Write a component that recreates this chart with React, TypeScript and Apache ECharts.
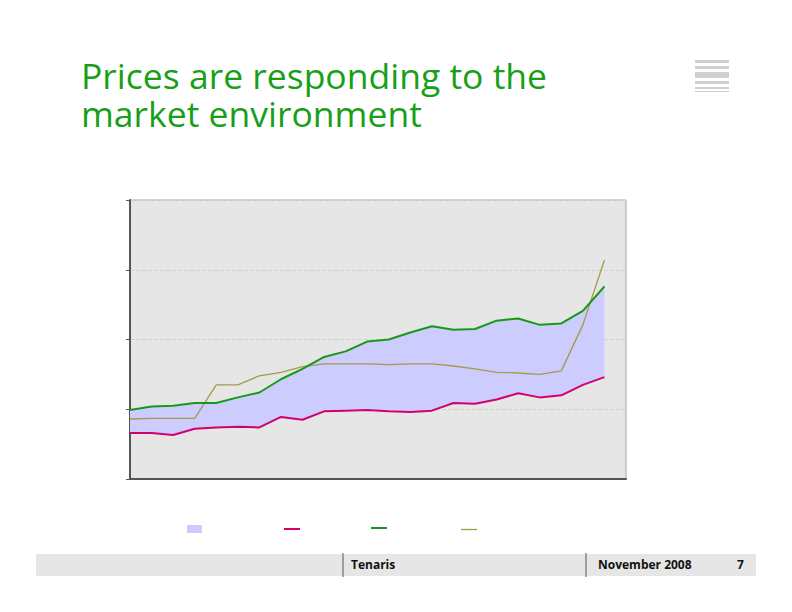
import React, { useEffect, useRef } from "react";
import * as echarts from "echarts";

const categories = Array.from({ length: 24 }, (_, i) => String(i + 1));
const upperPrice = [0.99, 1.04, 1.05, 1.09, 1.09, 1.17, 1.24, 1.43, 1.58, 1.75, 1.83, 1.97, 2.0, 2.1, 2.19, 2.14, 2.15, 2.27, 2.3, 2.21, 2.23, 2.41, 2.76];
const lowerPrice = [0.66, 0.66, 0.63, 0.72, 0.74, 0.75, 0.74, 0.89, 0.85, 0.97, 0.98, 0.99, 0.97, 0.96, 0.98, 1.09, 1.08, 1.14, 1.23, 1.17, 1.2, 1.35, 1.46];
const otherPrice = [0.86, 0.87, 0.87, 0.87, 1.35, 1.35, 1.48, 1.53, 1.61, 1.65, 1.65, 1.65, 1.64, 1.65, 1.65, 1.62, 1.58, 1.53, 1.52, 1.5, 1.55, 2.21, 3.14];
const bandWidth = upperPrice.map((v, i) => +(v - lowerPrice[i]).toFixed(3));
const titleLines = ["Prices are responding to the", "market environment"];

const GREEN = "#169a16";
const PINK = "#d4006c";
const OLIVE = "#a39c45";
const BAND = "#ccccff";

export default function App() {
  const ref = useRef<HTMLDivElement>(null);
  useEffect(() => {
    if (!ref.current) return;
    const chart = echarts.init(ref.current, undefined, { renderer: "svg" });
    chart.setOption({
      animation: false,
      backgroundColor: "#ffffff",
      grid: {
        left: 130,
        right: 166,
        top: 200,
        bottom: 133,
        show: true,
        backgroundColor: "#e6e6e6",
        borderColor: "#a8a8a8",
        borderWidth: 1,
      },
      xAxis: {
        type: "category",
        data: categories,
        boundaryGap: false,
        axisLine: { show: true, lineStyle: { color: "#555555", width: 2 } },
        axisTick: { show: false },
        axisLabel: { show: false },
        splitLine: { show: false },
      },
      yAxis: {
        type: "value",
        min: 0,
        max: 4,
        interval: 1,
        axisLine: { show: true, lineStyle: { color: "#555555", width: 2 } },
        axisTick: { show: true, length: 4, lineStyle: { color: "#555555", width: 1 } },
        axisLabel: { show: false },
        splitLine: { show: true, lineStyle: { color: "#d2d2d2", type: "dashed", width: 1 } },
      },
      series: [
        {
          type: "line",
          stack: "band",
          data: lowerPrice,
          symbol: "none",
          lineStyle: { opacity: 0 },
          areaStyle: { opacity: 0 },
          z: 1,
        },
        {
          type: "line",
          stack: "band",
          data: bandWidth,
          symbol: "none",
          lineStyle: { opacity: 0 },
          areaStyle: { color: BAND, opacity: 1 },
          z: 1,
        },
        {
          type: "line",
          data: otherPrice,
          symbol: "none",
          lineStyle: { color: OLIVE, width: 1.3 },
          z: 3,
        },
        {
          type: "line",
          data: lowerPrice,
          symbol: "none",
          lineStyle: { color: PINK, width: 2 },
          z: 4,
        },
        {
          type: "line",
          data: upperPrice,
          symbol: "none",
          lineStyle: { color: GREEN, width: 2 },
          z: 4,
        },
      ],
      graphic: [
        {
          type: "text",
          left: 81,
          top: 57,
          style: { text: titleLines[0], fill: "#17a017", font: "35.5px 'Open Sans'", lineHeight: 36 },
        },
        {
          type: "text",
          left: 81,
          top: 95,
          style: { text: titleLines[1], fill: "#17a017", font: "35.5px 'Open Sans'", lineHeight: 36 },
        },
        // icon stripes
        { type: "rect", shape: { x: 695, y: 60, width: 34, height: 3 }, style: { fill: "#d0d0d0" } },
        { type: "rect", shape: { x: 695, y: 66, width: 34, height: 3 }, style: { fill: "#d0d0d0" } },
        { type: "rect", shape: { x: 695, y: 72, width: 34, height: 6 }, style: { fill: "#d0d0d0" } },
        { type: "rect", shape: { x: 695, y: 81, width: 34, height: 3 }, style: { fill: "#d0d0d0" } },
        { type: "rect", shape: { x: 695, y: 87, width: 34, height: 2 }, style: { fill: "#d0d0d0" } },
        { type: "rect", shape: { x: 695, y: 91, width: 34, height: 1 }, style: { fill: "#d0d0d0" } },
        // legend keys
        { type: "rect", shape: { x: 187, y: 525, width: 15, height: 8 }, style: { fill: BAND } },
        { type: "line", shape: { x1: 284, y1: 529, x2: 300, y2: 529 }, style: { stroke: PINK, lineWidth: 2 } },
        { type: "line", shape: { x1: 371, y1: 528, x2: 387, y2: 528 }, style: { stroke: GREEN, lineWidth: 2 } },
        { type: "line", shape: { x1: 461, y1: 529.5, x2: 477, y2: 529.5 }, style: { stroke: OLIVE, lineWidth: 1.3 } },
        // footer
        { type: "rect", shape: { x: 36, y: 554, width: 720, height: 22 }, style: { fill: "#e6e6e6" } },
        { type: "line", shape: { x1: 343, y1: 553, x2: 343, y2: 577 }, style: { stroke: "#555555", lineWidth: 1 } },
        { type: "line", shape: { x1: 586, y1: 553, x2: 586, y2: 577 }, style: { stroke: "#555555", lineWidth: 1 } },
        {
          type: "text",
          left: 351,
          top: 558,
          style: { text: "Tenaris", fill: "#111111", font: "bold 12px 'Open Sans'" },
        },
        {
          type: "text",
          left: 598,
          top: 558,
          style: { text: "November 2008", fill: "#111111", font: "bold 12px 'Open Sans'" },
        },
        {
          type: "text",
          left: 737,
          top: 558,
          style: { text: "7", fill: "#111111", font: "bold 12px 'Open Sans'" },
        },
      ],
    });
    return () => chart.dispose();
  }, []);
  return (
    <div
      ref={ref}
      style={{ position: "fixed", left: 0, top: 0, width: 792, height: 612 }}
    />
  );
}
